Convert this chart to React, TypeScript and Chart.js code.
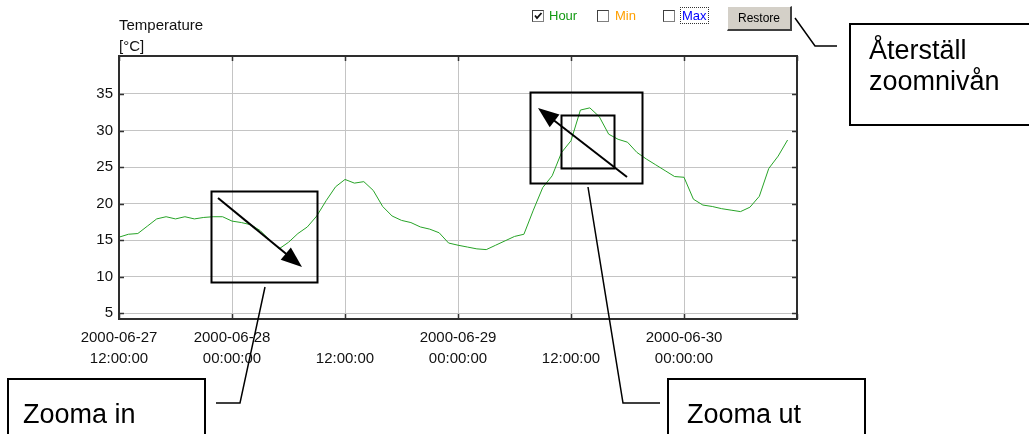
import React, { useEffect, useRef } from 'react';
import { Chart, registerables } from 'chart.js';

Chart.register(...registerables);

// Hours since 2000-06-27 12:00:00
const hourOffsets = [
  0, 1, 2, 3, 4, 5, 6, 7, 8, 9, 10, 11, 12, 13, 14, 15, 16, 17, 18, 19, 20, 21, 22, 23,
  24, 25, 26, 27, 28, 29, 30, 31, 32, 33, 34, 35, 36, 37, 38, 39, 40, 41, 42, 43, 44, 45, 46, 47,
  48, 49, 50, 51, 52, 53, 54, 55, 56, 57, 58, 59, 60, 61, 62, 63, 64, 65, 66, 67, 68, 69, 70, 71,
];

// Hourly temperature [°C]
const hourTemperatures = [
  15.4, 15.8, 15.9, 16.9, 17.9, 18.2, 17.9, 18.2, 17.9, 18.1, 18.2, 18.2,
  17.6, 17.4, 17.1, 16.3, 15.0, 13.8, 14.7, 15.9, 16.8, 18.3, 20.4, 22.3,
  23.3, 22.8, 23.0, 21.8, 19.6, 18.3, 17.7, 17.4, 16.8, 16.5, 16.0, 14.6,
  14.3, 14.05, 13.8, 13.7, 14.3, 14.9, 15.5, 15.8, 19.1, 22.2, 23.8, 27.0,
  28.6, 32.8, 33.1, 31.9, 29.5, 28.8, 28.4, 27.0, 26.1, 25.3, 24.5, 23.7,
  23.6, 20.6, 19.8, 19.6, 19.3, 19.1, 18.9, 19.5, 21.0, 24.8, 26.5, 28.7,
];

const xTickValues = [0, 12, 24, 36, 48, 60, 72];
const xTickLabels: (string | string[])[] = [
  ['2000-06-27', '12:00:00'],
  ['2000-06-28', '00:00:00'],
  ['', '12:00:00'],
  ['2000-06-29', '00:00:00'],
  ['', '12:00:00'],
  ['2000-06-30', '00:00:00'],
  '',
];
const yTickValues = [5, 10, 15, 20, 25, 30, 35];
const yAxisMin = 4.2;
const yAxisMax = 40.2;

const FONT = "'Liberation Sans', Arial, sans-serif";

const framePlugin = {
  id: 'frameTicks',
  afterDatasetsDraw(chart: any) {
    const { ctx, chartArea: a, scales } = chart;
    ctx.save();
    ctx.strokeStyle = '#333';
    ctx.lineWidth = 1.5;
    ctx.beginPath();
    xTickValues.forEach((v) => {
      const px = Math.round(scales.x.getPixelForValue(v)) + 0.5;
      ctx.moveTo(px, a.top);
      ctx.lineTo(px, a.top + 5);
      ctx.moveTo(px, a.bottom);
      ctx.lineTo(px, a.bottom - 5);
    });
    yTickValues.forEach((v) => {
      const py = Math.round(scales.y.getPixelForValue(v)) + 0.5;
      ctx.moveTo(a.left, py);
      ctx.lineTo(a.left + 5, py);
      ctx.moveTo(a.right, py);
      ctx.lineTo(a.right - 5, py);
    });
    ctx.stroke();
    ctx.lineWidth = 2;
    ctx.strokeStyle = '#2e2e2e';
    ctx.strokeRect(a.left, a.top, a.right - a.left, a.bottom - a.top);
    ctx.restore();
  },
};

function arrowHead(x1: number, y1: number, x2: number, y2: number, len = 20, half = 8) {
  const dx = x2 - x1;
  const dy = y2 - y1;
  const d = Math.hypot(dx, dy);
  const ux = dx / d;
  const uy = dy / d;
  const bx = x2 - ux * len;
  const by = y2 - uy * len;
  const px = -uy * half;
  const py = ux * half;
  return `${x2},${y2} ${bx + px},${by + py} ${bx - px},${by - py}`;
}

function Checkbox({ left, checked }: { left: number; checked?: boolean }) {
  return (
    <div
      style={{
        position: 'absolute',
        left,
        top: 10,
        width: 10,
        height: 10,
        background: '#fff',
        borderTop: '1px solid #404040',
        borderLeft: '1px solid #404040',
        borderRight: '1px solid #808080',
        borderBottom: '1px solid #808080',
      }}
    >
      {checked ? (
        <svg width="10" height="10" style={{ position: 'absolute', left: 0, top: 0 }}>
          <path d="M2 4.5 L4 7 L8.5 2" stroke="#111" strokeWidth="1.8" fill="none" />
        </svg>
      ) : null}
    </div>
  );
}

export default function App() {
  const canvasRef = useRef<HTMLCanvasElement | null>(null);

  useEffect(() => {
    if (!canvasRef.current) return;
    const chart = new Chart(canvasRef.current, {
      type: 'line',
      data: {
        datasets: [
          {
            label: 'Hour',
            data: hourOffsets.map((h, i) => ({ x: h, y: hourTemperatures[i] })),
            borderColor: '#27a327',
            borderWidth: 1,
            pointRadius: 0,
            tension: 0,
            fill: false,
          },
        ],
      },
      options: {
        responsive: false,
        animation: false,
        layout: { padding: { left: 0, top: 56, right: 232, bottom: 55 } },
        plugins: { legend: { display: false }, tooltip: { enabled: false } },
        scales: {
          x: {
            type: 'linear',
            min: 0,
            max: 72,
            afterBuildTicks: (s: any) => {
              s.ticks = xTickValues.map((v) => ({ value: v }));
            },
            afterFit: (s: any) => {
              s.height = 60;
            },
            ticks: {
              autoSkip: false,
              maxRotation: 0,
              minRotation: 0,
              padding: 8,
              color: '#111',
              font: { family: FONT, size: 15, lineHeight: 1.4 },
              callback: (v: any) => {
                const i = xTickValues.indexOf(Number(v));
                return i >= 0 ? xTickLabels[i] : '';
              },
            },
            grid: { color: '#c4c4c4', lineWidth: 1, drawTicks: false },
            border: { display: false },
          },
          y: {
            type: 'linear',
            min: yAxisMin,
            max: yAxisMax,
            afterBuildTicks: (s: any) => {
              s.ticks = yTickValues.map((v) => ({ value: v }));
            },
            afterFit: (s: any) => {
              s.width = 119;
            },
            ticks: {
              padding: 6,
              color: '#111',
              font: { family: FONT, size: 15 },
            },
            grid: { color: '#c4c4c4', lineWidth: 1, drawTicks: false },
            border: { display: false },
          },
        },
      },
      plugins: [framePlugin],
    } as any);
    return () => chart.destroy();
  }, []);

  const txt: React.CSSProperties = { position: 'absolute', fontFamily: FONT, whiteSpace: 'nowrap' };

  return (
    <div
      style={{
        position: 'fixed',
        left: 0,
        top: 0,
        width: 1029,
        height: 434,
        background: '#fff',
        overflow: 'hidden',
      }}
    >
      <canvas
        ref={canvasRef}
        width={1029}
        height={434}
        style={{ position: 'absolute', left: 0, top: 0, width: 1029, height: 434 }}
      />
      {/* axis title */}
      <div style={{ ...txt, left: 119, top: 16, fontSize: 15, lineHeight: '18px', color: '#111' }}>Temperature</div>
      <div style={{ ...txt, left: 119, top: 37, fontSize: 15, lineHeight: '18px', color: '#111' }}>[°C]</div>

      {/* series toggles */}
      <Checkbox left={532} checked />
      <div style={{ ...txt, left: 549, top: 7, fontSize: 13, lineHeight: '17px', color: '#139a13' }}>Hour</div>
      <Checkbox left={597} />
      <div style={{ ...txt, left: 615, top: 7, fontSize: 13, lineHeight: '17px', color: '#ffa000' }}>Min</div>
      <Checkbox left={663} />
      <div
        style={{
          ...txt,
          left: 680,
          top: 7,
          fontSize: 13,
          lineHeight: '15px',
          color: '#0000ff',
          border: '1px dotted #333',
          padding: '0 1px',
        }}
      >
        Max
      </div>
      <div
        style={{
          ...txt,
          left: 727,
          top: 6,
          width: 62,
          height: 22,
          background: '#d4d0c8',
          borderTop: '1px solid #fff',
          borderLeft: '1px solid #fff',
          borderRight: '2px solid #404040',
          borderBottom: '2px solid #404040',
          fontSize: 12,
          lineHeight: '22px',
          textAlign: 'center',
          color: '#000',
        }}
      >
        Restore
      </div>

      {/* annotations */}
      <svg
        width={1029}
        height={434}
        style={{ position: 'absolute', left: 0, top: 0, pointerEvents: 'none' }}
      >
        {/* zoom in */}
        <rect x={211.5} y={191.5} width={106} height={91} fill="none" stroke="#000" strokeWidth={2} />
        <line x1={218} y1={198} x2={290} y2={257} stroke="#000" strokeWidth={2} />
        <polygon points={arrowHead(218, 198, 302, 267, 21, 8)} fill="#000" />
        {/* zoom out */}
        <rect x={530.5} y={92.5} width={112} height={91} fill="none" stroke="#000" strokeWidth={2} />
        <rect x={561.5} y={115.5} width={53} height={53} fill="none" stroke="#000" strokeWidth={2} />
        <line x1={627} y1={177} x2={547} y2={115} stroke="#000" strokeWidth={2} />
        <polygon points={arrowHead(627, 177, 538, 108, 21, 8)} fill="#000" />
        {/* callout lines */}
        <polyline points="216,403 240,403 265,287" fill="none" stroke="#000" strokeWidth={1.5} />
        <polyline points="660,403 623,403 588,187" fill="none" stroke="#000" strokeWidth={1.5} />
        <polyline points="795,18 815,46 837,46" fill="none" stroke="#000" strokeWidth={1.5} />
        {/* callout boxes */}
        <rect x={8} y={379} width={197} height={80} fill="#fff" stroke="#000" strokeWidth={2} />
        <rect x={668} y={379} width={197} height={80} fill="#fff" stroke="#000" strokeWidth={2} />
        <rect x={850} y={24} width={200} height={101} fill="#fff" stroke="#000" strokeWidth={2} />
        <text x={23} y={423} fontFamily={FONT} fontSize={27} fill="#000">Zooma in</text>
        <text x={687} y={423} fontFamily={FONT} fontSize={27} fill="#000">Zooma ut</text>
        <text x={869} y={59} fontFamily={FONT} fontSize={27} fill="#000">Återställ</text>
        <text x={869} y={90} fontFamily={FONT} fontSize={27} fill="#000">zoomnivån</text>
      </svg>
    </div>
  );
}
